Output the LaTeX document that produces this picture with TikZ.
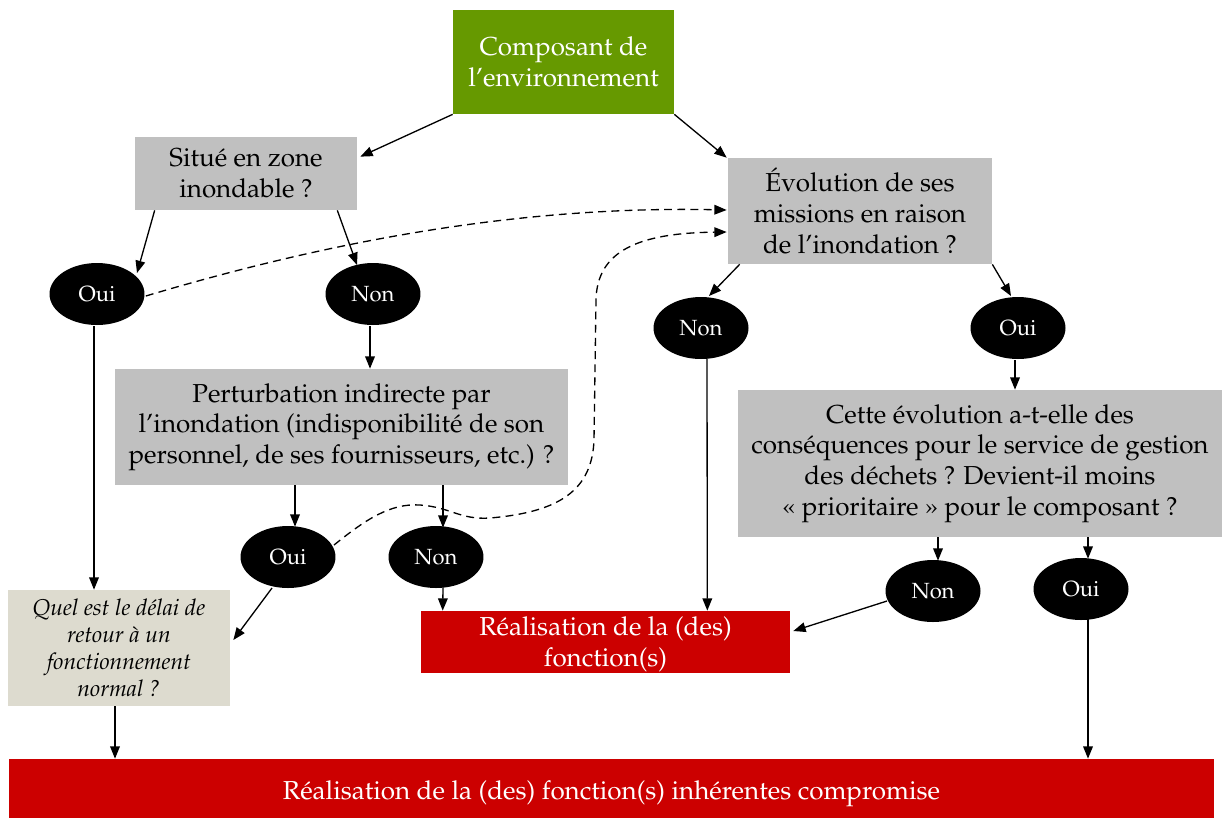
\documentclass[tikz,border=0pt]{standalone}
\usepackage[T1]{fontenc}
\usepackage{mathpazo}
\usetikzlibrary{shapes.geometric,arrows.meta,calc}
\definecolor{vert}{HTML}{669900}
\definecolor{gris}{HTML}{C0C0C0}
\definecolor{beige}{HTML}{DDDBCF}
\definecolor{rouge}{HTML}{CC0000}
\begin{document}
\begin{tikzpicture}[x=0.02cm,y=-0.02cm,
  box/.style={rectangle, inner sep=0pt, align=center, font=\fontsize{14.8}{17.5}\selectfont},
  grisbox/.style={box, fill=gris, text=black},
  rep/.style={ellipse, fill=black, text=white, inner sep=0pt, minimum width=1.9cm, minimum height=1.24cm, font=\fontsize{12.5}{15}\selectfont},
  arr/.style={-{Triangle[length=7pt,width=5.5pt]}, line width=0.75pt},
  dsh/.style={arr, dash pattern=on 4.5pt off 3pt}]
\useasboundingbox (0,0) rectangle (1223,819);
\node[box, fill=vert, text=white, minimum width=4.42cm, minimum height=2.08cm] (green) at (563.5,62) {Composant de\\l'environnement};
\node[grisbox, minimum width=4.44cm, minimum height=1.46cm] (situe) at (246,173.5) {Situ\'e en zone\\inondable ?};
\node[grisbox, minimum width=5.28cm, minimum height=2.12cm] (evol) at (860,211) {\'Evolution de ses\\missions en raison\\de l'inondation ?};
\node[grisbox, minimum width=9.06cm, minimum height=2.32cm] (perturb) at (341.5,427) {Perturbation indirecte par\\l'inondation (indisponibilit\'e de son\\personnel, de ses fournisseurs, etc.) ?};
\node[grisbox, minimum width=9.68cm, minimum height=2.94cm] (cette) at (980,463.5) {Cette \'evolution a-t-elle des\\cons\'equences pour le service de gestion\\des d\'echets ? Devient-il moins\\\guillemotleft{} prioritaire \guillemotright{} pour le composant ?};
\node[box, fill=beige, font=\fontsize{13}{15.4}\selectfont\itshape, minimum width=4.44cm, minimum height=2.32cm] (quel) at (119,648) {Quel est le d\'elai de\\retour \`a un\\fonctionnement\\normal ?};
\node[box, fill=rouge, text=white, minimum width=7.38cm, minimum height=1.24cm] (real) at (605.5,642) {\raisebox{-1.8pt}[\height][\depth]{\begin{tabular}{@{}c@{}}R\'ealisation de la (des)\\fonction(s)\end{tabular}}};
\node[box, fill=rouge, text=white, minimum width=24.1cm, minimum height=1.18cm] (bottom) at (611.5,788.5) {\raisebox{-2.8pt}[\height][\depth]{R\'ealisation de la (des) fonction(s) inh\'erentes compromise}};
\node[rep] (oui1) at (97,294) {Oui};
\node[rep] (non1) at (373,294) {Non};
\node[rep] (non2) at (701,328) {Non};
\node[rep] (oui2) at (1018,328) {Oui};
\node[rep] (oui3) at (288,557) {Oui};
\node[rep] (non3) at (436,557) {Non};
\node[rep] (non4) at (933,591) {Non};
\node[rep] (oui4) at (1081,589) {Oui};
% arrows
\draw[arr] (green.south west) -- ($(situe.north east)+(3,20)$);
\draw[arr] (green.south east) -- ($(evol.north west)+(-1,0)$);
\draw[arr] ($(situe.south west)+(20,0)$) -- ($(oui1)+(40,-21)$);
\draw[arr] ($(situe.south east)+(-20,0)$) -- ($(non1)+(-16,-29)$);
\draw[arr] ($(non1.south)+(-3,1)$) -- ($(non1.south |- perturb.north)+(-3,0)$);
\draw[arr] ($(evol.south west)+(12,0)$) -- ($(non2)+(8,-32)$);
\draw[arr] (evol.south east) -- ($(oui2)+(-7,-32)$);
\draw[arr] ($(oui2.south)+(-3,1)$) -- ($(oui2.south |- cette.north)+(-3,0)$);
\draw[arr] ($(oui1.south)+(-3,1)$) -- ($(oui1.south |- quel.north)+(-3,0)$);
\draw[arr] ($(perturb.south -| oui3)+(7,0)$) -- ($(oui3.north)+(7,1)$);
\draw[arr] ($(perturb.south -| non3)+(7,0)$) -- ($(non3.north)+(7,2)$);
\draw[arr] ($(non3.south)+(7,-1)$) -- ($(real.north west)+(22,0)$);
\draw[arr] ($(non2.south)+(6,-1)$) -- ($(real.north east)+(-83,0)$);
\draw[arr] ($(oui3)+(-16,31)$) -- ($(quel.east)+(3,-8)$);
\draw[arr] ($(non4)+(-46,10)$) -- ($(real.east)+(3,-11)$);
\draw[arr] ($(cette.south)+(-42,0)$) -- ($(non4.north)+(5,1)$);
\draw[arr] ($(cette.south)+(108,0)$) -- ($(oui4.north)+(7,1)$);
\draw[arr] ($(oui4.south)+(7,-1)$) -- ($(bottom.north -| oui4)+(7,0)$);
\draw[arr] ($(quel.south)+(-4,0)$) -- ($(bottom.north -| quel)+(-4,0)$);
% dashed
\draw[dsh] ($(oui1.east)+(1,2)$) .. controls (300,250) and (500,205) .. ($(evol.west)+(-1,-1)$);
\draw[dsh] ($(oui3)+(46,-12)$) .. controls (365,520) and (390,503) .. (420,505) .. controls (450,507) and (460,520) .. (490,518) .. controls (560,512) and (592,490) .. (594,440) -- (596,300) .. controls (597,250) and (640,233) .. ($(evol.west)+(-1,21)$);
\end{tikzpicture}
\end{document}
